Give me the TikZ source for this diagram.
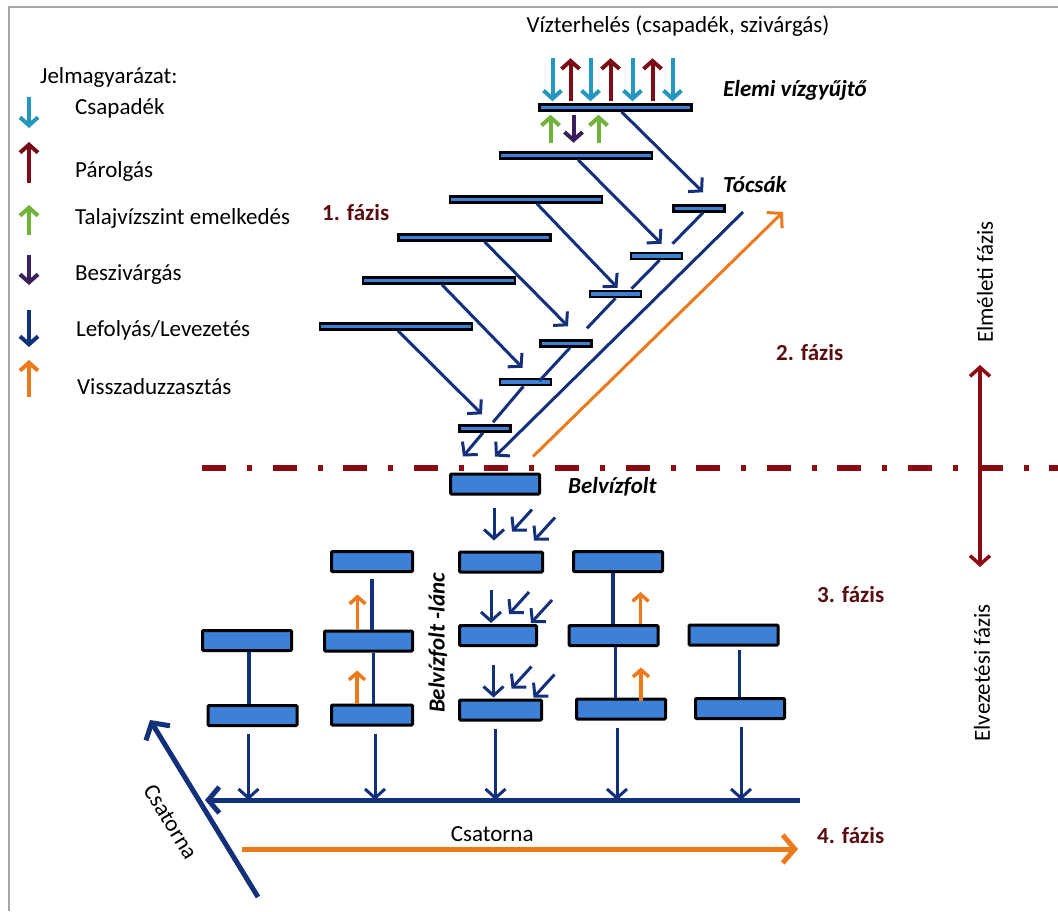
\documentclass[tikz,border=0pt]{standalone}
\usepackage{fontspec}
\setmainfont{Carlito}
\usetikzlibrary{arrows.meta}

\definecolor{barblue}{HTML}{3D80D8}
\definecolor{navy}{HTML}{13307A}
\definecolor{orng}{HTML}{EC7A1C}
\definecolor{rainc}{HTML}{2596BE}
\definecolor{evapc}{HTML}{7A0C18}
\definecolor{gwc}{HTML}{6FB33B}
\definecolor{infc}{HTML}{3B1F5C}
\definecolor{darkred}{HTML}{8A0C12}
\definecolor{phasered}{HTML}{5A0D10}

\newcommand{\bigfont}{\fontsize{23}{27}\selectfont}

\tikzset{
  txt/.style={anchor=base west, inner sep=0pt},
  tag/.style={txt, font=\bigfont\bfseries\itshape},
  phase/.style={txt, font=\bigfont\bfseries, text=phasered},
  lbar/.style={draw=black, fill=barblue, line width=2.5pt, minimum width=152pt, minimum height=6pt, inner sep=0pt},
  sbar/.style={lbar, minimum width=51pt},
  bbar/.style={draw=black, fill=barblue, line width=3pt, rounded corners=1pt, minimum width=89pt, minimum height=20pt, inner sep=0pt},
  flow/.style={draw=navy, line width=3pt, -{Straight Barb[length=9pt,width=20pt]}},
  link/.style={draw=navy, line width=3pt},
  rise/.style={draw=orng, line width=3.5pt, -{Straight Barb[length=7pt,width=16pt]}},
  legarr/.style={line width=4pt, -{Straight Barb[length=8pt,width=18pt]}},
  phasearr/.style={draw=darkred, line width=3.5pt, -{Straight Barb[length=9pt,width=20pt]}},
}

\begin{document}
\begin{tikzpicture}[x=1pt,y=-1pt,font=\bigfont]
  \useasboundingbox (0,0) rectangle (1058,911);
  \draw[black!35, line width=2pt] (9,911) -- (9,7) -- (1058,7);

  % legend
  \node[txt] (leg) at (40,83) {Jelmagyarázat:};
  \node[txt] (lcs) at (75,114) {Csapadék};
  \node[txt] (lpa) at (75,177) {Párolgás};
  \node[txt] (lta) at (75,224) {Talajvízszint emelkedés};
  \node[txt] (lbe) at (75,280) {Beszivárgás};
  \node[txt] (lle) at (76,336) {Lefolyás/Levezetés};
  \node[txt] (lvi) at (77,394) {Visszaduzzasztás};
  \draw[legarr, rainc] (29,97) -- (29,128);
  \draw[legarr, evapc] (29,183) -- (29,142);
  \draw[legarr, gwc] (29,235) -- (29,205);
  \draw[legarr, infc] (29,255) -- (29,285);
  \draw[legarr, navy] (29,310) -- (29,347);
  \draw[legarr, orng] (29,397) -- (29,360);

  % 1. fazis: elemi vizgyujtok es tocsak
  \node[txt, anchor=base] (vzt) at (678,32) {Vízterhelés (csapadék, szivárgás)};
  \node[lbar] (ev) at (615.5,107.5) {};
  \node[lbar] (l2) at (576,155.5) {};
  \node[lbar] (l3) at (526,199.5) {};
  \node[lbar] (l4) at (474.5,237.5) {};
  \node[lbar] (l5) at (439,280.5) {};
  \node[lbar] (l6) at (396,326.5) {};
  \node[sbar] (t1) at (699,208.5) {};
  \node[sbar] (t2) at (656.5,256) {};
  \node[sbar] (t3) at (615.5,294) {};
  \node[sbar] (t4) at (566,343.5) {};
  \node[sbar] (t5) at (525.5,382) {};
  \node[sbar] (t6) at (485,428.5) {};
  \node[tag] (evt) at (723,96) {Elemi vízgyűjtő};
  \node[tag] (tct) at (723,192) {Tócsák};
  \node[phase] (f1) at (322,220) {1. fázis};
  \node[phase] (f2) at (776,360) {2. fázis};

  \foreach \dx in {-63,-25,17,57}
    \draw[legarr, rainc] ([xshift=\dx pt,yshift=45pt]ev.north) -- ([xshift=\dx pt,yshift=2pt]ev.north);
  \foreach \dx in {-45,-5,37}
    \draw[legarr, evapc] ([xshift=\dx pt,yshift=2pt]ev.north) -- ([xshift=\dx pt,yshift=45pt]ev.north);
  \foreach \dx in {-65,-17}
    \draw[legarr, gwc] ([xshift=\dx pt,yshift=-31pt]ev.south) -- ([xshift=\dx pt,yshift=-3pt]ev.south);
  \draw[legarr, infc] ([xshift=-42pt,yshift=-3pt]ev.south) -- ([xshift=-42pt,yshift=-31pt]ev.south);

  \draw[flow] ([xshift=6pt]ev.south) -- ([xshift=4pt,yshift=12pt]t1.north);
  \draw[flow] ([xshift=2pt]l2.south) -- ([xshift=5pt,yshift=8pt]t2.north);
  \draw[flow] ([xshift=11pt]l3.south) -- ([xshift=2pt,yshift=2pt]t3.north);
  \draw[flow] ([xshift=10pt]l4.south) -- ([xshift=2pt,yshift=13pt]t4.north);
  \draw[flow] ([xshift=3pt]l5.south) -- ([xshift=-3pt,yshift=10pt]t5.north);
  \draw[flow] ([xshift=2pt]l6.south) -- ([xshift=-3pt,yshift=10pt]t6.north);

  \draw[link] ([xshift=4pt]t1.south) -- ([xshift=16pt,yshift=8pt]t2.north);
  \draw[link] ([xshift=3pt]t2.south) -- ([xshift=16pt,yshift=1pt]t3.north);
  \draw[link] (t3.south) -- ([xshift=21pt,yshift=11pt]t4.north);
  \draw[link] ([xshift=4pt]t4.south) -- ([xshift=14pt,yshift=-3pt]t5.north);
  \draw[link] ([xshift=-2pt]t5.south) -- ([xshift=8pt,yshift=2pt]t6.north);

  % 2. fazis
  \node[bbar] (bf) at (495,484) {};
  \node[tag] (bft) at (568,493) {Belvízfolt};
  \coordinate (tr) at (743,212);
  \coordinate (visz) at (783,212);
  \draw[flow] ([xshift=-2pt]t6.south) -- ([xshift=-32pt,yshift=16pt]bf.north);
  \draw[flow] (tr) -- ([yshift=16pt]bf.north);
  \draw[rise, line width=3pt, -{Straight Barb[length=10pt,width=22pt]}] ([xshift=38pt,yshift=16pt]bf.north) -- (visz);

  \coordinate (dl-w) at (202,468);
  \coordinate (dl-e) at (1058,468);
  \draw[darkred, line width=6pt, dash pattern=on 24pt off 21pt on 5pt off 20.6pt] (dl-w) -- (dl-e);
  \coordinate (mid) at (980,468);
  \draw[phasearr] (mid) -- ++(0,-103);
  \draw[phasearr] (mid) -- ++(0,99);
  \node[rotate=90] (elm) at (985,282) {Elméleti fázis};
  \node[rotate=90] (elv) at (982,673) {Elvezetési fázis};

  % 3. fazis: belvizfolt-lanc
  \node[bbar, minimum width=83pt] (m1) at (501,562) {};
  \node[bbar, minimum width=77pt] (m2) at (498,635.5) {};
  \node[bbar, minimum width=82pt] (m3) at (500.5,710) {};
  \node[bbar, minimum width=81pt] (c2a) at (372,561.5) {};
  \node[bbar, minimum width=88pt] (c2b) at (368.5,641) {};
  \node[bbar, minimum width=81pt] (c2c) at (372,715) {};
  \node[bbar] (c1a) at (247,640.5) {};
  \node[bbar] (c1b) at (252.5,715.5) {};
  \node[bbar] (c4a) at (618,561.5) {};
  \node[bbar] (c4b) at (613.5,635.5) {};
  \node[bbar] (c4c) at (621,709) {};
  \node[bbar] (c5a) at (733.5,635) {};
  \node[bbar] (c5b) at (740,708.5) {};
  \node[tag, rotate=90, anchor=center] (blt) at (438,643) {Belvízfolt -lánc};
  \node[phase] (f3) at (817,602) {3. fázis};

  \foreach \b/\g in {m1/10, m2/1, m3/1} {
    \draw[flow] ([xshift=-7pt,yshift={\g pt+33pt}]\b.north) -- ([xshift=-7pt,yshift=\g pt]\b.north);
    \draw[flow] ([xshift=31pt,yshift={\g pt+31pt}]\b.north) -- ([xshift=11pt,yshift={\g pt+9pt}]\b.north);
    \draw[flow] ([xshift=54pt,yshift={\g pt+23pt}]\b.north) -- ([xshift=33pt,yshift=\g pt]\b.north);
  }

  \draw[link, line width=3.5pt] ([xshift=2pt]c1a.south) -- ([xshift=2pt]c1a.south |- c1b.north);
  \draw[link, line width=3.5pt] ([yshift=-6pt]c2a.south) -- (c2a.south |- c2b.north);
  \draw[link, line width=3.5pt] ([xshift=5pt]c2b.south) -- ([xshift=5pt]c2b.south |- c2c.north);
  \draw[link, line width=3.5pt] ([xshift=-5pt]c4a.south) -- ([xshift=-5pt]c4a.south |- c4b.north);
  \draw[link, line width=3.5pt] ([xshift=2pt]c4b.south) -- ([xshift=2pt]c4b.south |- c4c.north);
  \draw[link, line width=3.5pt] ([xshift=6pt,yshift=-3pt]c5a.south) -- ([xshift=6pt]c5a.south |- c5b.north);

  \draw[rise] ([xshift=-11pt]c2b.north) -- ([xshift=-11pt,yshift=35pt]c2b.north);
  \draw[rise] ([xshift=-15pt]c2c.north) -- ([xshift=-15pt,yshift=33pt]c2c.north);
  \draw[rise] ([xshift=27pt]c4b.north) -- ([xshift=27pt,yshift=32pt]c4b.north);
  \draw[rise] ([xshift=20pt,yshift=-3pt]c4c.north) -- ([xshift=20pt,yshift=30pt]c4c.north);

  % 4. fazis: csatorna
  \coordinate (ch-e) at (800,800);
  \coordinate (ch-w) at (205,800);
  \draw[flow, line width=5pt, -{Straight Barb[length=11pt,width=26pt]}] (ch-e) -- (ch-w);
  \foreach \b/\dx in {c1b/-4, c2c/3, m3/-5, c4c/-4, c5b/1}
    \draw[flow] ([xshift=\dx pt,yshift=-7pt]\b.south) -- ([xshift=\dx pt]\b.south |- ch-w);

  \coordinate (cs-s) at (258,897);
  \coordinate (cs-n) at (150,720);
  \draw[flow, line width=5pt, -{Straight Barb[length=12pt,width=28pt]}] (cs-s) -- node[sloped, below=22pt, pos=0.53] (cst) {Csatorna} (cs-n);

  \coordinate (or-w) at (242,849);
  \coordinate (or-e) at (798,849);
  \draw[rise, line width=5pt, -{Straight Barb[length=12pt,width=28pt]}] (or-w) -- node[pos=0.45, above=2pt] (ort) {Csatorna} (or-e);
  \node[phase] (f4) at (817,843) {4. fázis};
\end{tikzpicture}
\end{document}
